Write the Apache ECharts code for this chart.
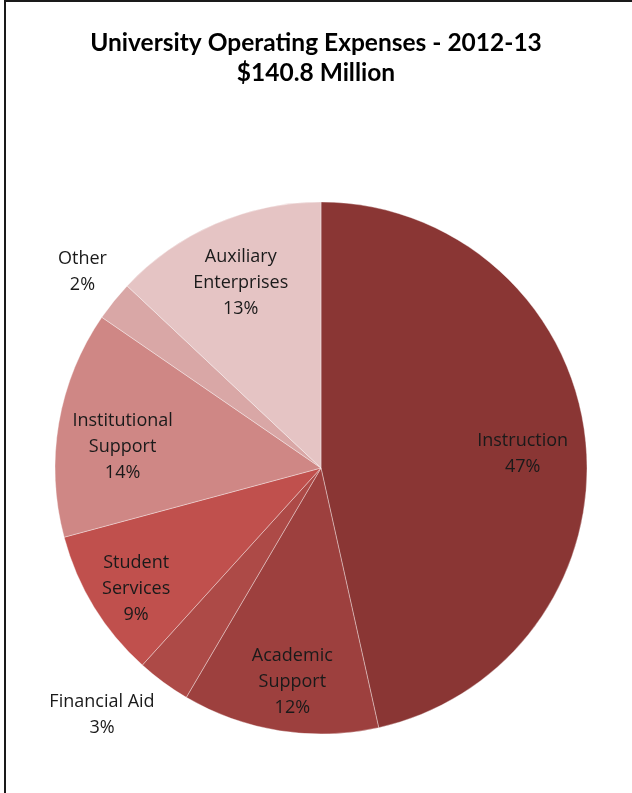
<!DOCTYPE html>
<html>
<head>
<meta charset="utf-8">
<script src="https://cdn.jsdelivr.net/npm/echarts@6/dist/echarts.min.js"></script>
<style>
html,body{margin:0;padding:0;background:#fff;}
#chart{width:632px;height:793px;}
</style>
</head>
<body>
<div id="chart"></div>
<script>
// Data (millions of dollars, total $140.8M)
const categories = ['Instruction', 'Academic Support', 'Financial Aid', 'Student Services', 'Institutional Support', 'Other', 'Auxiliary Enterprises'];
const labelNames = ['Instruction', 'Academic\nSupport', 'Financial Aid', 'Student\nServices', 'Institutional\nSupport', 'Other', 'Auxiliary\nEnterprises'];
const values = [65.5, 16.8, 4.6, 12.8, 19.4, 3.4, 18.3];
const titleLines = ['University Operating Expenses - 2012-13', '$140.8 Million'];

// Styles / label placement (radius fraction and angular nudge, degrees)
const colors = ['#8a3634', '#9d403e', '#ad4a47', '#c0504d', '#cf8785', '#d9a7a6', '#e5c4c4'];
const labelRadiusFactor = [0.76, 0.81, 1.24, 0.83, 0.75, 1.16, 0.76];
const labelAngleShift = [2.3, -1.3, 5.3, -1.7, -3.7, 0.5, 0];
const CX = 321, CY = 468, R = 266;

const total = values.reduce((a, b) => a + b, 0);
const midAngles = [];
(function () {
  let cum = 0;
  values.forEach(v => { midAngles.push((cum + v / 2) / total * 360); cum += v; });
})();

const chart = echarts.init(document.getElementById('chart'), null, {renderer: 'canvas'});
chart.setOption({
  backgroundColor: '#ffffff',
  animation: false,
  title: {
    text: titleLines.join('\n'),
    left: 'center',
    top: 23,
    padding: [5, 5, 5, 13],
    textStyle: {
      fontFamily: 'Lato',
      fontWeight: 'bold',
      fontSize: 24.5,
      lineHeight: 30,
      color: '#000'
    }
  },
  graphic: [{
    type: 'rect',
    shape: {x: 5, y: 1, width: 800, height: 900},
    style: {fill: 'none', stroke: '#1a1a1a', lineWidth: 2},
    silent: true
  }],
  series: [{
    type: 'pie',
    center: [CX, CY],
    radius: R,
    startAngle: 90,
    clockwise: true,
    avoidLabelOverlap: false,
    itemStyle: {borderColor: 'rgba(255,255,255,0.35)', borderWidth: 1},
    label: {
      show: true,
      position: 'inside',
      fontFamily: 'Open Sans',
      fontSize: 18,
      lineHeight: 26,
      color: '#1a1a1a',
      align: 'center',
      formatter: function (p) { return labelNames[p.dataIndex] + '\n' + Math.round(p.percent) + '%'; }
    },
    labelLine: {show: false},
    labelLayout: function (params) {
      const i = params.dataIndex;
      const a = (midAngles[i] + labelAngleShift[i]) * Math.PI / 180;
      const r = labelRadiusFactor[i] * R;
      return {x: CX + r * Math.sin(a), y: CY - r * Math.cos(a), align: 'center', verticalAlign: 'middle'};
    },
    emphasis: {disabled: true},
    data: categories.map((c, i) => ({name: c, value: values[i], itemStyle: {color: colors[i]}}))
  }]
});
</script>
</body>
</html>
